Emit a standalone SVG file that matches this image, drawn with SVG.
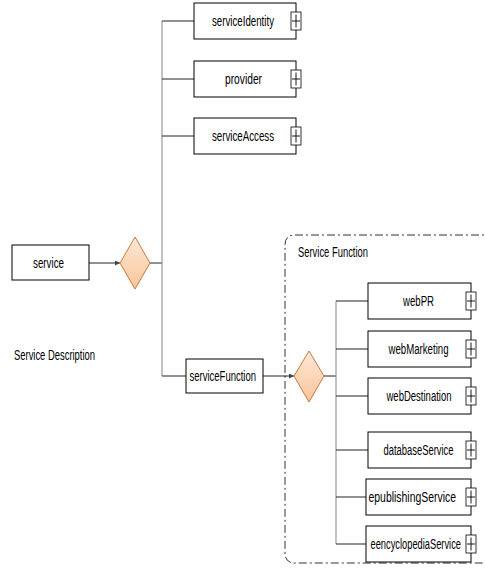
<svg xmlns="http://www.w3.org/2000/svg" width="485" height="572" viewBox="0 0 485 572">
<style>
.box{fill:#fff;stroke:#000;stroke-width:1}
.plus{fill:#fff;stroke:#000;stroke-width:0.8}
.pl{stroke:#000;stroke-width:0.9;fill:none}
.t{font-family:"Liberation Sans",Arial,sans-serif;font-size:14px;fill:#000}
.c{stroke:#222;stroke-width:1;fill:none}
.bar{stroke:#999;stroke-width:1.2;fill:none}
.dia{fill:url(#dg);stroke:#c8783a;stroke-width:1}
.grp{fill:none;stroke:#333;stroke-width:1;stroke-dasharray:8,3,2,3}
</style>
<defs>
<linearGradient id="dg" x1="0" y1="0" x2="0" y2="1">
<stop offset="0" stop-color="#fde8d6"/>
<stop offset="1" stop-color="#fbc59a"/>
</linearGradient>
<marker id="ar" viewBox="0 0 6 6" refX="6" refY="3" markerWidth="5" markerHeight="5" orient="auto">
<path d="M0,0 L6,3 L0,6 z" fill="#444"/>
</marker>
<g id="plusIcon">
<rect class="plus" x="0" y="0" width="10" height="18"/>
<path class="pl" d="M1,9 H9 M5,2.5 V15.5"/>
</g>
</defs>

<g id="group-service-function">
<path class="grp" d="M495,235 H295 Q285,235 285,245 V553 Q285,563 295,563 H495"/>
<text class="t" x="298" y="257" textLength="70" lengthAdjust="spacingAndGlyphs">Service Function</text>
</g>

<g id="connectors">
<line class="c" x1="89" y1="263" x2="120" y2="263" marker-end="url(#ar)"/>
<line class="c" x1="150" y1="263" x2="162" y2="263"/>
<line class="bar" x1="162" y1="21" x2="162" y2="376"/>
<line class="c" x1="162" y1="21" x2="194" y2="21"/>
<line class="c" x1="162" y1="79" x2="194" y2="79"/>
<line class="c" x1="162" y1="136" x2="194" y2="136"/>
<line class="c" x1="162" y1="376" x2="186" y2="376"/>
<line class="c" x1="263" y1="376" x2="294" y2="376" marker-end="url(#ar)"/>
<line class="c" x1="324" y1="376" x2="336" y2="376"/>
<line class="bar" x1="336" y1="301" x2="336" y2="544"/>
<line class="c" x1="336" y1="301" x2="368" y2="301"/>
<line class="c" x1="336" y1="349" x2="368" y2="349"/>
<line class="c" x1="336" y1="396" x2="368" y2="396"/>
<line class="c" x1="336" y1="450" x2="368" y2="450"/>
<line class="c" x1="336" y1="497" x2="366" y2="497"/>
<line class="c" x1="336" y1="544" x2="366" y2="544"/>
</g>

<g id="service">
<rect class="box" x="12" y="245" width="77" height="35"/>
<text class="t" x="33" y="268" textLength="31" lengthAdjust="spacingAndGlyphs">service</text>
</g>

<g id="choice1">
<path class="dia" d="M135,237 L150,263 L135,289 L120,263 z"/>
</g>

<g id="service-description">
<text class="t" x="14" y="360" textLength="81" lengthAdjust="spacingAndGlyphs">Service Description</text>
</g>

<g id="serviceIdentity">
<rect class="box" x="194" y="3" width="102" height="36"/>
<text class="t" x="212" y="26" textLength="62" lengthAdjust="spacingAndGlyphs">serviceIdentity</text>
<use href="#plusIcon" x="291" y="12"/>
</g>

<g id="provider">
<rect class="box" x="194" y="61" width="102" height="36"/>
<text class="t" x="225" y="84" textLength="37" lengthAdjust="spacingAndGlyphs">provider</text>
<use href="#plusIcon" x="291" y="70"/>
</g>

<g id="serviceAccess">
<rect class="box" x="194" y="118" width="102" height="36"/>
<text class="t" x="212" y="141" textLength="62" lengthAdjust="spacingAndGlyphs">serviceAccess</text>
<use href="#plusIcon" x="291" y="127"/>
</g>

<g id="serviceFunction">
<rect class="box" x="186" y="359" width="77" height="34"/>
<text class="t" x="189.5" y="381" textLength="66.5" lengthAdjust="spacingAndGlyphs">serviceFunction</text>
</g>

<g id="choice2">
<path class="dia" d="M309,351 L324,376 L309,402 L294,376 z"/>
</g>

<g id="webPR">
<rect class="box" x="368" y="283" width="103" height="36"/>
<text class="t" x="403" y="306" textLength="31" lengthAdjust="spacingAndGlyphs">webPR</text>
<use href="#plusIcon" x="466" y="292"/>
</g>

<g id="webMarketing">
<rect class="box" x="368" y="331" width="103" height="36"/>
<text class="t" x="388.5" y="354" textLength="60" lengthAdjust="spacingAndGlyphs">webMarketing</text>
<use href="#plusIcon" x="466" y="340"/>
</g>

<g id="webDestination">
<rect class="box" x="368" y="378" width="103" height="36"/>
<text class="t" x="386.5" y="401" textLength="65" lengthAdjust="spacingAndGlyphs">webDestination</text>
<use href="#plusIcon" x="466" y="387"/>
</g>

<g id="databaseService">
<rect class="box" x="368" y="432" width="103" height="36"/>
<text class="t" x="383.5" y="455" textLength="70" lengthAdjust="spacingAndGlyphs">databaseService</text>
<use href="#plusIcon" x="466" y="441"/>
</g>

<g id="epublishingService">
<rect class="box" x="366" y="479" width="105" height="36"/>
<text class="t" x="368.5" y="502" textLength="87.5" lengthAdjust="spacingAndGlyphs">epublishingService</text>
<use href="#plusIcon" x="466" y="488"/>
</g>

<g id="eencyclopediaService">
<rect class="box" x="366" y="526" width="105" height="36"/>
<text class="t" x="370.5" y="549" textLength="90.5" lengthAdjust="spacingAndGlyphs">eencyclopediaService</text>
<use href="#plusIcon" x="466" y="535"/>
</g>
</svg>
